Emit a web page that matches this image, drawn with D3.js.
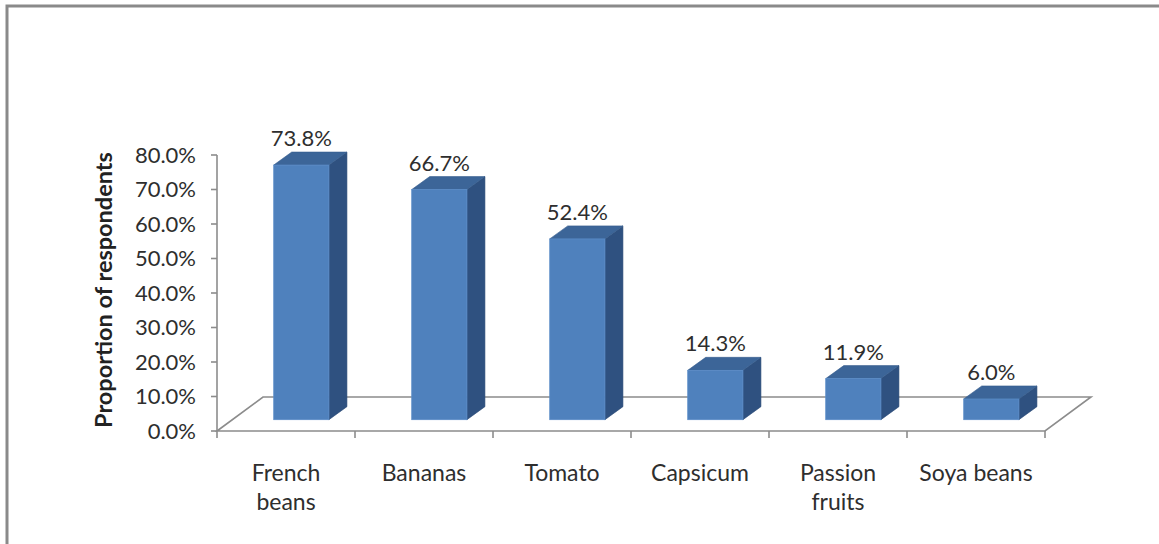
<!DOCTYPE html>
<html>
<head>
<meta charset="utf-8">
<script src="https://cdn.jsdelivr.net/npm/d3@7"></script>
<style>
  html, body { margin: 0; padding: 0; background: #fff; }
  svg { display: block; }
  text { font-family: Lato, "Open Sans", sans-serif; fill: #2e2e2e; }
</style>
</head>
<body>
<svg id="chart" width="1159" height="544"></svg>
<script>
// Crops grown by respondents
const categories = ["French beans", "Bananas", "Tomato", "Capsicum", "Passion fruits", "Soya beans"];
const categoryLines = [["French", "beans"], ["Bananas"], ["Tomato"], ["Capsicum"], ["Passion", "fruits"], ["Soya beans"]];
const values = [73.8, 66.7, 52.4, 14.3, 11.9, 6.0];
const yTicks = [0, 10, 20, 30, 40, 50, 60, 70, 80];
const yTitle = "Proportion of respondents";

const svg = d3.select("#chart");
const W = 1159, H = 544;

// frame
svg.append("path")
  .attr("d", `M7,${H} L7,6 L${W},6`)
  .attr("fill", "none").attr("stroke", "#8a8a8a").attr("stroke-width", 3);

// plot geometry (front plane of the floor)
const plot = { left: 217, right: 1045, bottom: 431, top: 155 };
const depth = { dx: 46, dy: -34 };        // floor depth offset
const barPlane = 1 / 3;                   // bars sit one third into the floor
const barDepth = { dx: 18, dy: -13 };

const x = d3.scaleBand().domain(categories).range([plot.left, plot.right]).paddingInner(0).paddingOuter(0);
const y = d3.scaleLinear().domain([0, 80]).range([plot.bottom, plot.top]);

const grey = "#8c8c8c";

// floor outline
const f = svg.append("g").attr("fill", "none").attr("stroke", grey).attr("stroke-width", 1.6);
f.append("path").attr("d", `M${plot.left},${plot.bottom} L${plot.left + depth.dx},${plot.bottom + depth.dy} L${plot.right + depth.dx},${plot.bottom + depth.dy} L${plot.right},${plot.bottom} Z`);

// value axis
const yAxis = svg.append("g");
yAxis.append("line").attr("x1", plot.left).attr("x2", plot.left)
  .attr("y1", y(80)).attr("y2", y(0)).attr("stroke", grey).attr("stroke-width", 1.6);
yAxis.selectAll("line.tick").data(yTicks).join("line").attr("class", "tick")
  .attr("x1", plot.left - 6).attr("x2", plot.left)
  .attr("y1", d => y(d)).attr("y2", d => y(d))
  .attr("stroke", grey).attr("stroke-width", 1.6);
yAxis.selectAll("text").data(yTicks).join("text")
  .attr("x", 196).attr("y", d => y(d)).attr("dy", "0.36em")
  .attr("text-anchor", "end").style("font-size", "22px")
  .text(d => d.toFixed(1) + "%");

// category ticks
const bounds = categories.map(c => x(c)).concat([plot.right]);
svg.append("g").selectAll("line").data(bounds).join("line")
  .attr("x1", d => d).attr("x2", d => d)
  .attr("y1", plot.bottom).attr("y2", plot.bottom + 7)
  .attr("stroke", grey).attr("stroke-width", 1.6);

// category labels
const cl = svg.append("g").selectAll("text").data(categories).join("text")
  .attr("text-anchor", "middle").style("font-size", "23px")
  .attr("x", d => x(d) + x.bandwidth() / 2).attr("y", 481);
cl.each(function(d, i) {
  d3.select(this).selectAll("tspan").data(categoryLines[i]).join("tspan")
    .attr("x", x(d) + x.bandwidth() / 2)
    .attr("dy", (t, j) => j === 0 ? 0 : 29)
    .text(t => t);
});

// 3D columns
const bw = x.bandwidth() * 0.4;
const bars = svg.append("g");
categories.forEach((c, i) => {
  const v = values[i];
  const x0 = x(c) + (x.bandwidth() - bw) / 2 + depth.dx * barPlane;
  const x1 = x0 + bw;
  const yb = y(0) + depth.dy * barPlane;
  const yt = y(v) + depth.dy * barPlane;
  const g = bars.append("g");
  // side face
  g.append("path")
    .attr("d", `M${x1},${yt} L${x1 + barDepth.dx},${yt + barDepth.dy} L${x1 + barDepth.dx},${yb + barDepth.dy} L${x1},${yb} Z`)
    .attr("fill", "#2f5180").attr("stroke", "#2a4a75").attr("stroke-width", 0.6);
  // top face
  g.append("path")
    .attr("d", `M${x0},${yt} L${x0 + barDepth.dx},${yt + barDepth.dy} L${x1 + barDepth.dx},${yt + barDepth.dy} L${x1},${yt} Z`)
    .attr("fill", "#3c6598").attr("stroke", "#365d8d").attr("stroke-width", 0.6);
  // front face
  g.append("rect")
    .attr("x", x0).attr("y", yt).attr("width", bw).attr("height", yb - yt)
    .attr("fill", "#4f81bd").attr("stroke", "#5a8cc8").attr("stroke-width", 0.8);
  // value label
  g.append("text")
    .attr("x", (x0 + x1) / 2).attr("y", yt - 19)
    .attr("text-anchor", "middle").style("font-size", "22px")
    .text(v.toFixed(1) + "%");
});

// axis title
svg.append("text")
  .attr("transform", "translate(112,290) rotate(-90)")
  .attr("text-anchor", "middle")
  .style("font-size", "23.5px").style("font-weight", "bold").style("fill", "#222")
  .text(yTitle);
</script>
</body>
</html>
